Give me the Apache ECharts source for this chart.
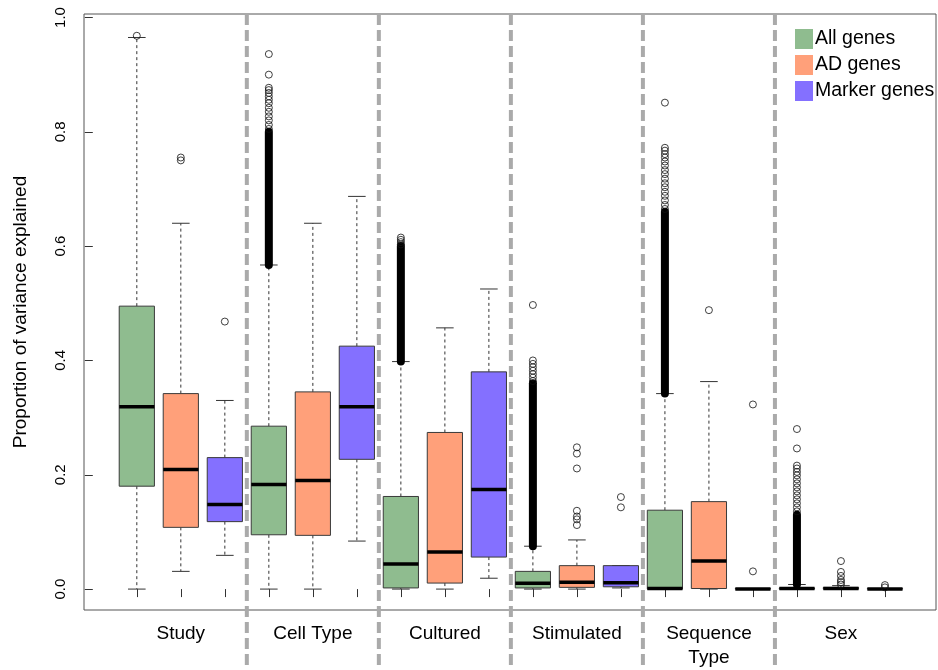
<!DOCTYPE html>
<html>
<head>
<meta charset="utf-8">
<script src="https://cdn.jsdelivr.net/npm/echarts@6/dist/echarts.min.js"></script>
<style>html,body{margin:0;padding:0;background:#fff}#c{width:938px;height:670px}</style>
</head>
<body>
<div id="c"></div>
<script>
// ---------- data ----------
const categories = ['Study', 'Cell Type', 'Cultured', 'Stimulated', 'Sequence\nType', 'Sex'];
const seriesNames = ['All genes', 'AD genes', 'Marker genes'];
const seriesColors = ['#8FBC8F', '#FFA07A', '#8470FF'];
const yTicks = [0, 0.2, 0.4, 0.6, 0.8, 1.0];

// box stats per category: [min whisker, Q1, median, Q3, max whisker]
const allGenesBox = [
  [0, 0.18, 0.319, 0.495, 0.965],
  [0, 0.095, 0.183, 0.285, 0.567],
  [0, 0.002, 0.044, 0.162, 0.398],
  [0, 0.002, 0.010, 0.031, 0.075],
  [0, 0, 0.001, 0.138, 0.342],
  [0, 0, 0.001, 0.002, 0.008]
];
const adGenesBox = [
  [0.031, 0.108, 0.209, 0.342, 0.64],
  [0, 0.094, 0.19, 0.345, 0.64],
  [0, 0.0105, 0.065, 0.274, 0.457],
  [0, 0.003, 0.012, 0.041, 0.086],
  [0, 0.001, 0.049, 0.153, 0.363],
  [0, 0, 0.001, 0.003, 0.006]
];
const markerGenesBox = [
  [0.059, 0.118, 0.148, 0.23, 0.33],
  [0.084, 0.227, 0.319, 0.425, 0.687],
  [0.019, 0.056, 0.174, 0.38, 0.525],
  [0.002, 0.004, 0.011, 0.041, 0.041],
  [0, 0, 0, 0.001, 0.001],
  [0, 0, 0, 0.001, 0.001]
];

// individually visible outliers per category
const allGenesOutliers = [
  [0.968],
  [0.805, 0.812, 0.82, 0.827, 0.835, 0.842, 0.85, 0.856, 0.862, 0.868, 0.873, 0.877, 0.90, 0.936],
  [0.603, 0.607, 0.611, 0.615],
  [0.364, 0.37, 0.376, 0.382, 0.388, 0.394, 0.40, 0.497],
  [0.665, 0.672, 0.68, 0.688, 0.695, 0.703, 0.71, 0.718, 0.726, 0.733, 0.741, 0.748, 0.755, 0.761, 0.767, 0.772, 0.851],
  [0.136, 0.143, 0.15, 0.157, 0.164, 0.171, 0.178, 0.185, 0.192, 0.199, 0.205, 0.211, 0.216, 0.246, 0.28]
];
const adGenesOutliers = [
  [0.75, 0.755],
  [],
  [],
  [0.112, 0.122, 0.127, 0.137, 0.211, 0.237, 0.248],
  [0.488],
  [0.008, 0.012, 0.016, 0.023, 0.03, 0.049]
];
const markerGenesOutliers = [
  [0.468],
  [],
  [],
  [0.143, 0.161],
  [0.031, 0.323],
  [0.003, 0.007]
];
// ranges where outliers overlap into a solid black column: [low, high] (null = none)
const allGenesDense = [null, [0.567, 0.80], [0.398, 0.60], [0.075, 0.36], [0.342, 0.66], [0.008, 0.13]];

// ---------- build ----------
const boxSets = [allGenesBox, adGenesBox, markerGenesBox];
const outlierSets = [allGenesOutliers, adGenesOutliers, markerGenesOutliers];
const nGroups = categories.length;
const pos = (g, s) => g * 3 + s + 1;

const FONT = "'Liberation Sans', Arial, Helvetica, sans-serif";

function renderBox(params, api) {
  const x = api.value(0);
  const c = v => api.coord([x, v]);
  const w = api.size([0.8, 0])[0];
  const cx = c(api.value(3))[0];
  const yMin = c(api.value(1))[1], yQ1 = c(api.value(2))[1], yMed = c(api.value(3))[1];
  const yQ3 = c(api.value(4))[1], yMax = c(api.value(5))[1];
  const half = w / 2, cap = w / 4;
  const fill = api.visual('color');
  const wStyle = { stroke: '#333', lineWidth: 1, lineDash: [3, 3] };
  const cStyle = { stroke: '#333', lineWidth: 1 };
  return {
    type: 'group',
    children: [
      { type: 'line', shape: { x1: cx, y1: yQ3, x2: cx, y2: yMax }, style: wStyle },
      { type: 'line', shape: { x1: cx, y1: yQ1, x2: cx, y2: yMin }, style: wStyle },
      { type: 'line', shape: { x1: cx - cap, y1: yMax, x2: cx + cap, y2: yMax }, style: cStyle },
      { type: 'line', shape: { x1: cx - cap, y1: yMin, x2: cx + cap, y2: yMin }, style: cStyle },
      { type: 'rect', shape: { x: cx - half, y: yQ3, width: w, height: yQ1 - yQ3 }, style: { fill: fill, stroke: '#3a3a3a', lineWidth: 1 } },
      { type: 'line', shape: { x1: cx - half, y1: yMed, x2: cx + half, y2: yMed }, style: { stroke: '#000', lineWidth: 3.5 } }
    ]
  };
}

const series = [];

// separators
const sepData = [];
for (let g = 1; g < nGroups; g++) sepData.push([g * 3 + 0.5]);
series.push({
  type: 'custom',
  name: 'sep',
  silent: true,
  data: sepData,
  z: 1,
  renderItem: function (params, api) {
    const p = api.coord([api.value(0), 1.0061]);
    return {
      type: 'line',
      shape: { x1: p[0], y1: p[1], x2: p[0], y2: api.getHeight() },
      style: { stroke: '#AAAAAA', lineWidth: 4, lineDash: [11, 5] }
    };
  }
});

for (let s = 0; s < 3; s++) {
  const data = boxSets[s].map((b, g) => [pos(g, s)].concat(b));
  series.push({
    type: 'custom',
    name: seriesNames[s],
    itemStyle: { color: seriesColors[s] },
    data: data,
    z: 2,
    renderItem: renderBox
  });
}

// dense outlier columns
const denseData = [];
allGenesDense.forEach((r, g) => { if (r) denseData.push([pos(g, 0), r[0], r[1]]); });
series.push({
  type: 'custom',
  name: 'dense',
  data: denseData,
  z: 3,
  renderItem: function (params, api) {
    const a = api.coord([api.value(0), api.value(1)]);
    const b = api.coord([api.value(0), api.value(2)]);
    return {
      type: 'line',
      shape: { x1: a[0], y1: a[1], x2: b[0], y2: b[1] },
      style: { stroke: '#000', lineWidth: 8, lineCap: 'round' }
    };
  }
});

// outliers
const outData = [];
for (let s = 0; s < 3; s++) {
  outlierSets[s].forEach((arr, g) => arr.forEach(v => outData.push([pos(g, s), v])));
}
series.push({
  type: 'scatter',
  name: 'outliers',
  data: outData,
  symbol: 'circle',
  symbolSize: 7,
  z: 4,
  itemStyle: { color: 'rgba(0,0,0,0)', borderColor: '#111', borderWidth: 1 },
  silent: true
});

const chart = echarts.init(document.getElementById('c'), null, { renderer: 'canvas' });
chart.setOption({
  animation: false,
  backgroundColor: '#fff',
  textStyle: { fontFamily: FONT },
  grid: { left: 84, top: 14, width: 852, height: 598, show: true, borderColor: '#555', borderWidth: 1, backgroundColor: 'transparent' },
  legend: {
    data: seriesNames.map(n => ({ name: n, icon: 'rect' })),
    orient: 'vertical',
    left: 795,
    top: 29,
    padding: 0,
    itemWidth: 18,
    itemHeight: 20,
    itemGap: 6,
    itemStyle: { borderWidth: 0 },
    textStyle: { fontSize: 19.5, color: '#000', fontFamily: FONT, lineHeight: 20, padding: [0, 0, 0, -3] },
    selectedMode: false
  },
  xAxis: {
    type: 'value',
    min: -0.2,
    max: 19.16,
    splitLine: { show: false },
    axisLine: { show: false },
    axisTick: { show: true, length: 8, lineStyle: { color: '#333' }, customValues: Array.from({ length: nGroups * 3 }, (_, i) => i + 1) },
    axisLabel: {
      customValues: categories.map((_, g) => pos(g, 1)),
      formatter: v => categories[Math.round((v - 2) / 3)],
      fontSize: 19, color: '#000', margin: 12, lineHeight: 24, fontFamily: FONT
    }
  },
  yAxis: {
    type: 'value',
    min: -0.0366,
    max: 1.0061,
    splitLine: { show: false },
    axisLine: { show: false },
    axisTick: { show: true, length: 8, lineStyle: { color: '#333' }, customValues: yTicks },
    axisLabel: {
      customValues: yTicks,
      formatter: v => v.toFixed(1),
      rotate: 90, fontSize: 15, color: '#000', margin: 16, fontFamily: FONT
    },
    name: 'Proportion of variance explained',
    nameLocation: 'middle',
    nameGap: 54,
    nameTextStyle: { fontSize: 19, color: '#000', fontFamily: FONT }
  },
  series: series
});
</script>
</body>
</html>
